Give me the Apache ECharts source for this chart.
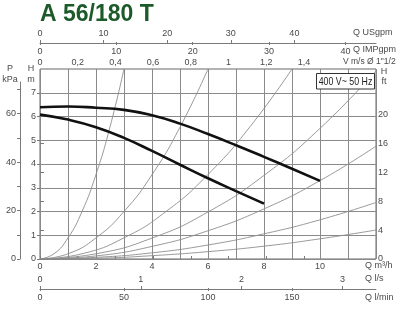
<!DOCTYPE html>
<html><head><meta charset="utf-8">
<script src="https://cdn.jsdelivr.net/npm/echarts@6/dist/echarts.min.js"></script>
<style>html,body{margin:0;padding:0;background:#fff}#c{width:400px;height:309px}</style>
</head><body><div id="c"></div>
<script>
// ---- text / ticks ----
const chartTitle = 'A 56/180 T';
const ratingText = '400 V~ 50 Hz';
const qM3hLabels = [0, 2, 4, 6, 8, 10];
const hLabels = [0, 1, 2, 3, 4, 5, 6, 7];
const kpaTicks = [0, 10, 20, 30, 40, 50, 60, 70];
const kpaLabels = [0, 20, 40, 60];
const ftTicks = [0, 4, 8, 12, 16, 20];
const vTicks = [0, 0.2, 0.4, 0.6, 0.8, 1, 1.2, 1.4];
const usgpmTicks = [0, 10, 20, 30, 40];
const impgpmTicks = [0, 10, 20, 30, 40];
const lsTicks = [0, 1, 2, 3];
const lminTicks = [0, 50, 100, 150];

// ---- pump curves (Q m3/h, H m) ----
const qPumpMax = [0, 1, 2, 3, 4, 5, 6, 7, 8, 9, 10];
const hPumpMax = [6.39, 6.42, 6.37, 6.28, 6.05, 5.70, 5.26, 4.79, 4.30, 3.80, 3.29];
const qPumpMin = [0, 1, 2, 3, 4, 5, 6, 7, 8];
const hPumpMin = [6.08, 5.87, 5.55, 5.10, 4.55, 3.97, 3.40, 2.86, 2.33];

// ---- system (resistance) curves ----
const qSys1 = [0, 0.5, 1, 1.5, 2, 2.5, 3];
const hSys1 = [0, 0.22, 0.89, 2.0, 3.56, 5.56, 8.0];
const qSys2 = [0, 1, 2, 3, 4, 5, 6];
const hSys2 = [0, 0.22, 0.89, 2.0, 3.55, 5.55, 8.0];
const qSys3 = [0, 1.5, 3, 4.5, 6, 7.5, 9];
const hSys3 = [0, 0.22, 0.89, 2.0, 3.56, 5.57, 8.0];
const qSys4 = [0, 2, 4, 6, 8, 10, 12];
const hSys4 = [0, 0.22, 0.88, 1.98, 3.52, 5.5, 7.92];
const qSys5 = [0, 2, 4, 6, 8, 10, 12];
const hSys5 = [0, 0.13, 0.53, 1.19, 2.11, 3.3, 4.75];
const qSys6 = [0, 2, 4, 6, 8, 10, 12];
const hSys6 = [0, 0.07, 0.26, 0.59, 1.06, 1.65, 2.38];
const qSys7 = [0, 2, 4, 6, 8, 10, 12];
const hSys7 = [0, 0.03, 0.14, 0.31, 0.54, 0.85, 1.22];

// ---- unit conversions ----
const Q_MAX = 12, H_MAX = 8;
const KPA_PER_M = 9.81, FT_PER_M = 3.2808;
const USGPM_PER_M3H = 4.4029, IMPGPM_PER_M3H = 3.6662;
const LS_PER_M3H = 1 / 3.6, LMIN_PER_M3H = 1000 / 60;
const VMS_PER_M3H = 0.14854;

const zip = (a, b) => a.map((v, i) => [v, b[i]]);
const FONT = 'Liberation Sans, Arial, sans-serif';
const TXT = '#4a4a4a';
const lbl = extra => Object.assign({ color: TXT, fontSize: 9, fontFamily: FONT }, extra);
const AX = '#7a7a7a';
const off = () => ({ show: false });

const sysCurves = [[qSys1,hSys1],[qSys2,hSys2],[qSys3,hSys3],[qSys4,hSys4],[qSys5,hSys5],[qSys6,hSys6],[qSys7,hSys7]];

const series = [];
sysCurves.forEach(([q, h]) => series.push({
  type: 'line', xAxisIndex: 0, yAxisIndex: 0, data: zip(q, h), smooth: true,
  showSymbol: false, silent: true, lineStyle: { color: '#8d8d8d', width: 0.9 }, z: 2
}));
[[qPumpMax, hPumpMax], [qPumpMin, hPumpMin]].forEach(([q, h]) => series.push({
  type: 'line', xAxisIndex: 0, yAxisIndex: 0, data: zip(q, h), smooth: true,
  showSymbol: false, silent: true, lineStyle: { color: '#111', width: 2.6, cap: 'butt' }, z: 5
}));

const fmtV = v => String(Math.round(v * 10) / 10).replace('.', ',');

const option = {
  animation: false,
  backgroundColor: '#fff',
  grid: [
    { left: 40, top: 69, width: 336, height: 190, show: true, borderColor: '#666', borderWidth: 1, outerBoundsMode: 'none' },
    { left: 20, top: 82, width: 1, height: 177, outerBoundsMode: 'none' },
    { left: 40, top: 42, width: 336, height: 1, outerBoundsMode: 'none' },
    { left: 40, top: 288, width: 336, height: 1, outerBoundsMode: 'none' }
  ],
  xAxis: [
    { gridIndex: 0, type: 'value', min: 0, max: Q_MAX, interval: 1, position: 'bottom',
      axisLine: off(), axisTick: off(),
      axisLabel: lbl({ customValues: qM3hLabels, margin: 3 }),
      splitLine: { show: true, lineStyle: { color: '#8a8a8a', width: 1 } } },
    { gridIndex: 0, type: 'value', min: 0, max: Q_MAX * VMS_PER_M3H, position: 'top',
      axisLine: off(),
      axisTick: { show: true, customValues: vTicks, length: 3, lineStyle: { color: AX } },
      axisLabel: lbl({ customValues: vTicks, margin: 2, formatter: fmtV }),
      splitLine: off() },
    { gridIndex: 2, type: 'value', min: 0, max: Q_MAX * USGPM_PER_M3H, position: 'top',
      axisLine: { show: true, lineStyle: { color: AX } },
      axisTick: { show: true, customValues: usgpmTicks, length: 3, lineStyle: { color: AX } },
      axisLabel: lbl({ customValues: usgpmTicks, margin: 4 }),
      splitLine: off() },
    { gridIndex: 2, type: 'value', min: 0, max: Q_MAX * IMPGPM_PER_M3H, position: 'top',
      axisLine: off(),
      axisTick: { show: true, inside: true, customValues: impgpmTicks, length: 3, lineStyle: { color: AX } },
      axisLabel: lbl({ customValues: impgpmTicks, inside: true, margin: 5 }),
      splitLine: off() },
    { gridIndex: 3, type: 'value', min: 0, max: Q_MAX * LS_PER_M3H, position: 'top',
      axisLine: { show: true, lineStyle: { color: AX } },
      axisTick: { show: true, customValues: lsTicks, length: 3, lineStyle: { color: AX } },
      axisLabel: lbl({ customValues: lsTicks, margin: 4 }),
      splitLine: off() },
    { gridIndex: 3, type: 'value', min: 0, max: Q_MAX * LMIN_PER_M3H, position: 'top',
      axisLine: off(),
      axisTick: { show: true, inside: true, customValues: lminTicks, length: 3, lineStyle: { color: AX } },
      axisLabel: lbl({ customValues: lminTicks, inside: true, margin: 5 }),
      splitLine: off() },
    { gridIndex: 1, type: 'value', min: 0, max: 1, show: false }
  ],
  yAxis: [
    { gridIndex: 0, type: 'value', min: 0, max: H_MAX, interval: 1, position: 'left',
      axisLine: off(),
      axisTick: { show: true, customValues: hLabels, length: 3, lineStyle: { color: AX } },
      axisLabel: lbl({ customValues: hLabels, margin: 4 }),
      splitLine: { show: true, lineStyle: { color: '#8a8a8a', width: 1 } } },
    { gridIndex: 0, type: 'value', min: 0, max: H_MAX * FT_PER_M, position: 'right',
      axisLine: off(),
      axisTick: { show: true, customValues: ftTicks, length: 4, lineStyle: { color: AX } },
      axisLabel: lbl({ customValues: ftTicks, margin: 2 }),
      splitLine: off() },
    { gridIndex: 1, type: 'value', min: 0, max: 177 / (190 / (H_MAX * KPA_PER_M)), position: 'left',
      axisLine: { show: true, lineStyle: { color: AX } },
      axisTick: { show: true, customValues: kpaTicks, length: 3, lineStyle: { color: AX } },
      axisLabel: lbl({ customValues: kpaLabels, margin: 4 }),
      splitLine: off() },
    { gridIndex: 2, type: 'value', show: false, axisLine: off(), splitLine: off() },
    { gridIndex: 3, type: 'value', show: false, axisLine: off(), splitLine: off() }
  ],
  series: series,
  graphic: [
    { type: 'text', left: 40, top: 3, z: 100,
      style: { text: chartTitle, fill: '#1c5a2a', font: 'bold 23px ' + FONT } },
    { type: 'rect', z: 100, shape: { x: 316.5, y: 73.5, width: 58, height: 15.5 },
      style: { fill: '#fff', stroke: '#333', lineWidth: 1 } },
    { type: 'text', z: 101, x: 345.5, y: 81.5, scaleX: 0.8,
      style: { text: ratingText, fill: '#222', font: '11px ' + FONT, align: 'center', verticalAlign: 'middle' } },
    { type: 'text', z: 100, x: 353, y: 33, style: { text: 'Q USgpm', fill: TXT, font: '9px ' + FONT, verticalAlign: 'middle' } },
    { type: 'text', z: 100, x: 353, y: 50, style: { text: 'Q IMPgpm', fill: TXT, font: '9px ' + FONT, verticalAlign: 'middle' } },
    { type: 'text', z: 100, x: 343, y: 62, style: { text: 'V m/s Ø 1"1/2', fill: TXT, font: '8.5px ' + FONT, verticalAlign: 'middle' } },
    { type: 'text', z: 100, x: 365, y: 266, style: { text: 'Q m³/h', fill: TXT, font: '9px ' + FONT, verticalAlign: 'middle' } },
    { type: 'text', z: 100, x: 365, y: 279, style: { text: 'Q l/s', fill: TXT, font: '9px ' + FONT, verticalAlign: 'middle' } },
    { type: 'text', z: 100, x: 365, y: 298, style: { text: 'Q l/min', fill: TXT, font: '9px ' + FONT, verticalAlign: 'middle' } },
    { type: 'text', z: 100, x: 10, y: 69, style: { text: 'P', fill: TXT, font: '9px ' + FONT, align: 'center', verticalAlign: 'middle' } },
    { type: 'text', z: 100, x: 10, y: 80, style: { text: 'kPa', fill: TXT, font: '9px ' + FONT, align: 'center', verticalAlign: 'middle' } },
    { type: 'text', z: 100, x: 31, y: 69, style: { text: 'H', fill: TXT, font: '9px ' + FONT, align: 'center', verticalAlign: 'middle' } },
    { type: 'text', z: 100, x: 31, y: 80, style: { text: 'm', fill: TXT, font: '9px ' + FONT, align: 'center', verticalAlign: 'middle' } },
    { type: 'text', z: 100, x: 384, y: 72, style: { text: 'H', fill: TXT, font: '9px ' + FONT, align: 'center', verticalAlign: 'middle' } },
    { type: 'text', z: 100, x: 384, y: 82, style: { text: 'ft', fill: TXT, font: '9px ' + FONT, align: 'center', verticalAlign: 'middle' } }
  ]
};

const chart = echarts.init(document.getElementById('c'), null, { renderer: 'canvas' });
chart.setOption(option);
</script>
</body></html>
